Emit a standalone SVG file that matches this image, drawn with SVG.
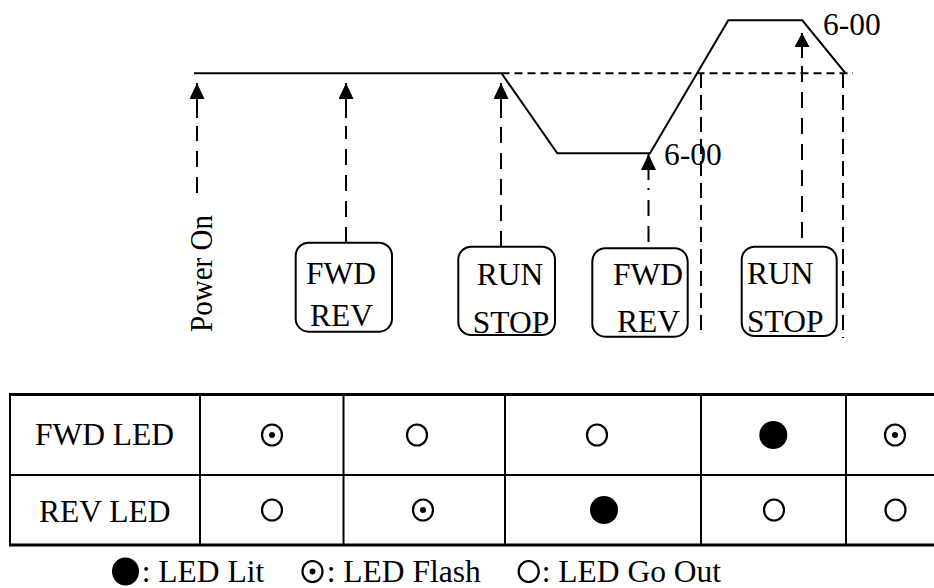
<svg xmlns="http://www.w3.org/2000/svg" width="934" height="588" viewBox="0 0 934 588">
<style>
  .t { font-family: "Liberation Serif", "Times New Roman", serif; font-size: 31.5px; fill: #000; }
  .ln { stroke: #000; stroke-width: 2; fill: none; }
  .dash { stroke: #000; stroke-width: 2; fill: none; stroke-dasharray: 16 10; }
  .hd { stroke: #000; stroke-width: 2; fill: none; stroke-dasharray: 8 5; }
  .vd { stroke: #000; stroke-width: 2; fill: none; stroke-dasharray: 15 7; }
  .box { stroke: #000; stroke-width: 2; fill: #fff; }
  .tb { stroke: #000; stroke-width: 2; }
  .tbk { stroke: #000; stroke-width: 3; }
  .open { stroke: #000; stroke-width: 2.2; fill: none; }
</style>
<defs>
  <marker id="ah" markerUnits="userSpaceOnUse" markerWidth="17" markerHeight="16" refX="16" refY="7.5" orient="auto">
    <path d="M0,0 L16,7.5 L0,15 z" fill="#000"/>
  </marker>
  <marker id="ahs" markerUnits="userSpaceOnUse" markerWidth="15" markerHeight="16" refX="14" refY="7.5" orient="auto">
    <path d="M0,0 L14,7.5 L0,15 z" fill="#000"/>
  </marker>
</defs>

<g id="speed-curve">
  <path class="ln" d="M194,73.3 L501.5,73.3 L557.3,153.3 L650,153.3 L728.3,20.3 L802.3,20.3 L845,72.7"/>
  <line class="hd" x1="501.5" y1="73.3" x2="853" y2="73.3"/>
  <text class="t" x="823" y="35">6-00</text>
  <text class="t" x="664" y="165">6-00</text>
</g>

<g id="connectors">
  <line class="ln" x1="197" y1="118" x2="197" y2="83" marker-end="url(#ah)"/>
  <line class="dash" x1="197" y1="193" x2="197" y2="126"/>
  <line class="ln" x1="346" y1="118" x2="346" y2="83" marker-end="url(#ah)"/>
  <line class="dash" x1="346" y1="243" x2="346" y2="126"/>
  <line class="ln" x1="501" y1="118" x2="501" y2="83" marker-end="url(#ah)"/>
  <line class="dash" x1="501" y1="247" x2="501" y2="126"/>
  <line class="ln" x1="648.5" y1="180" x2="648.5" y2="154" marker-end="url(#ah)"/>
  <line class="dash" x1="648.5" y1="242" x2="648.5" y2="188"/>
  <line class="ln" x1="802" y1="58" x2="802" y2="33" marker-end="url(#ahs)"/>
  <line class="dash" x1="802" y1="238" x2="802" y2="66"/>
  <line class="vd" x1="701" y1="73" x2="701" y2="335"/>
  <line class="vd" x1="843" y1="73" x2="843" y2="338"/>
</g>

<g id="power-on">
  <text class="t" transform="translate(212,332) rotate(-90)" textLength="117" lengthAdjust="spacingAndGlyphs">Power On</text>
</g>

<g id="fwd-rev-1">
  <rect class="box" x="295.7" y="242.7" width="96.3" height="89" rx="13"/>
  <text class="t" x="306" y="284">FWD</text>
  <text class="t" x="310" y="325.7">REV</text>
</g>

<g id="run-stop-1">
  <rect class="box" x="458.3" y="246.7" width="96.7" height="88.3" rx="13"/>
  <text class="t" x="476.7" y="285">RUN</text>
  <text class="t" x="472.7" y="333">STOP</text>
</g>

<g id="fwd-rev-2">
  <rect class="box" x="592.3" y="248.3" width="95.4" height="88.4" rx="13"/>
  <text class="t" x="613" y="285">FWD</text>
  <text class="t" x="617" y="332">REV</text>
</g>

<g id="run-stop-2">
  <rect class="box" x="741.7" y="246.7" width="95" height="89.3" rx="13"/>
  <text class="t" x="747" y="284">RUN</text>
  <text class="t" x="747" y="332">STOP</text>
</g>

<g id="led-table">
  <line class="tbk" x1="9" y1="394.5" x2="934" y2="394.5"/>
  <line class="tb" x1="10" y1="475" x2="934" y2="475"/>
  <line class="tbk" x1="9" y1="545" x2="934" y2="545"/>
  <line class="tb" x1="10" y1="394" x2="10" y2="546"/>
  <line class="tb" x1="200" y1="394" x2="200" y2="546"/>
  <line class="tb" x1="343.5" y1="394" x2="343.5" y2="546"/>
  <line class="tb" x1="505" y1="394" x2="505" y2="546"/>
  <line class="tb" x1="701" y1="394" x2="701" y2="546"/>
  <line class="tb" x1="846" y1="394" x2="846" y2="546"/>
  <text class="t" x="35" y="445">FWD LED</text>
  <text class="t" x="39" y="521.7">REV LED</text>
  <!-- row 1 -->
  <ellipse class="open" cx="272" cy="435" rx="10" ry="10.5"/><circle cx="272" cy="435" r="3"/>
  <ellipse class="open" cx="417" cy="435" rx="10" ry="10.5"/>
  <ellipse class="open" cx="597" cy="435" rx="10" ry="10.5"/>
  <ellipse cx="773.3" cy="435" rx="14" ry="14"/>
  <ellipse class="open" cx="895" cy="435" rx="10" ry="10.5"/><circle cx="895" cy="435" r="3"/>
  <!-- row 2 -->
  <ellipse class="open" cx="272" cy="510" rx="10" ry="10.5"/>
  <ellipse class="open" cx="423" cy="510" rx="10" ry="10.5"/><circle cx="423" cy="510" r="3"/>
  <ellipse cx="604" cy="510" rx="14" ry="14"/>
  <ellipse class="open" cx="774" cy="510" rx="10" ry="10.5"/>
  <ellipse class="open" cx="895.5" cy="510" rx="10" ry="10.5"/>
</g>

<g id="legend">
  <ellipse cx="125.5" cy="571.5" rx="13.5" ry="14"/>
  <text class="t" x="141.7" y="582">: LED Lit</text>
  <ellipse class="open" cx="312.5" cy="571.5" rx="10" ry="10.5"/><circle cx="312.5" cy="571.5" r="3"/>
  <text class="t" x="326.7" y="582">: LED Flash</text>
  <ellipse class="open" cx="528.7" cy="571.5" rx="10" ry="10.5"/>
  <text class="t" x="541.7" y="582">: LED Go Out</text>
</g>
</svg>
